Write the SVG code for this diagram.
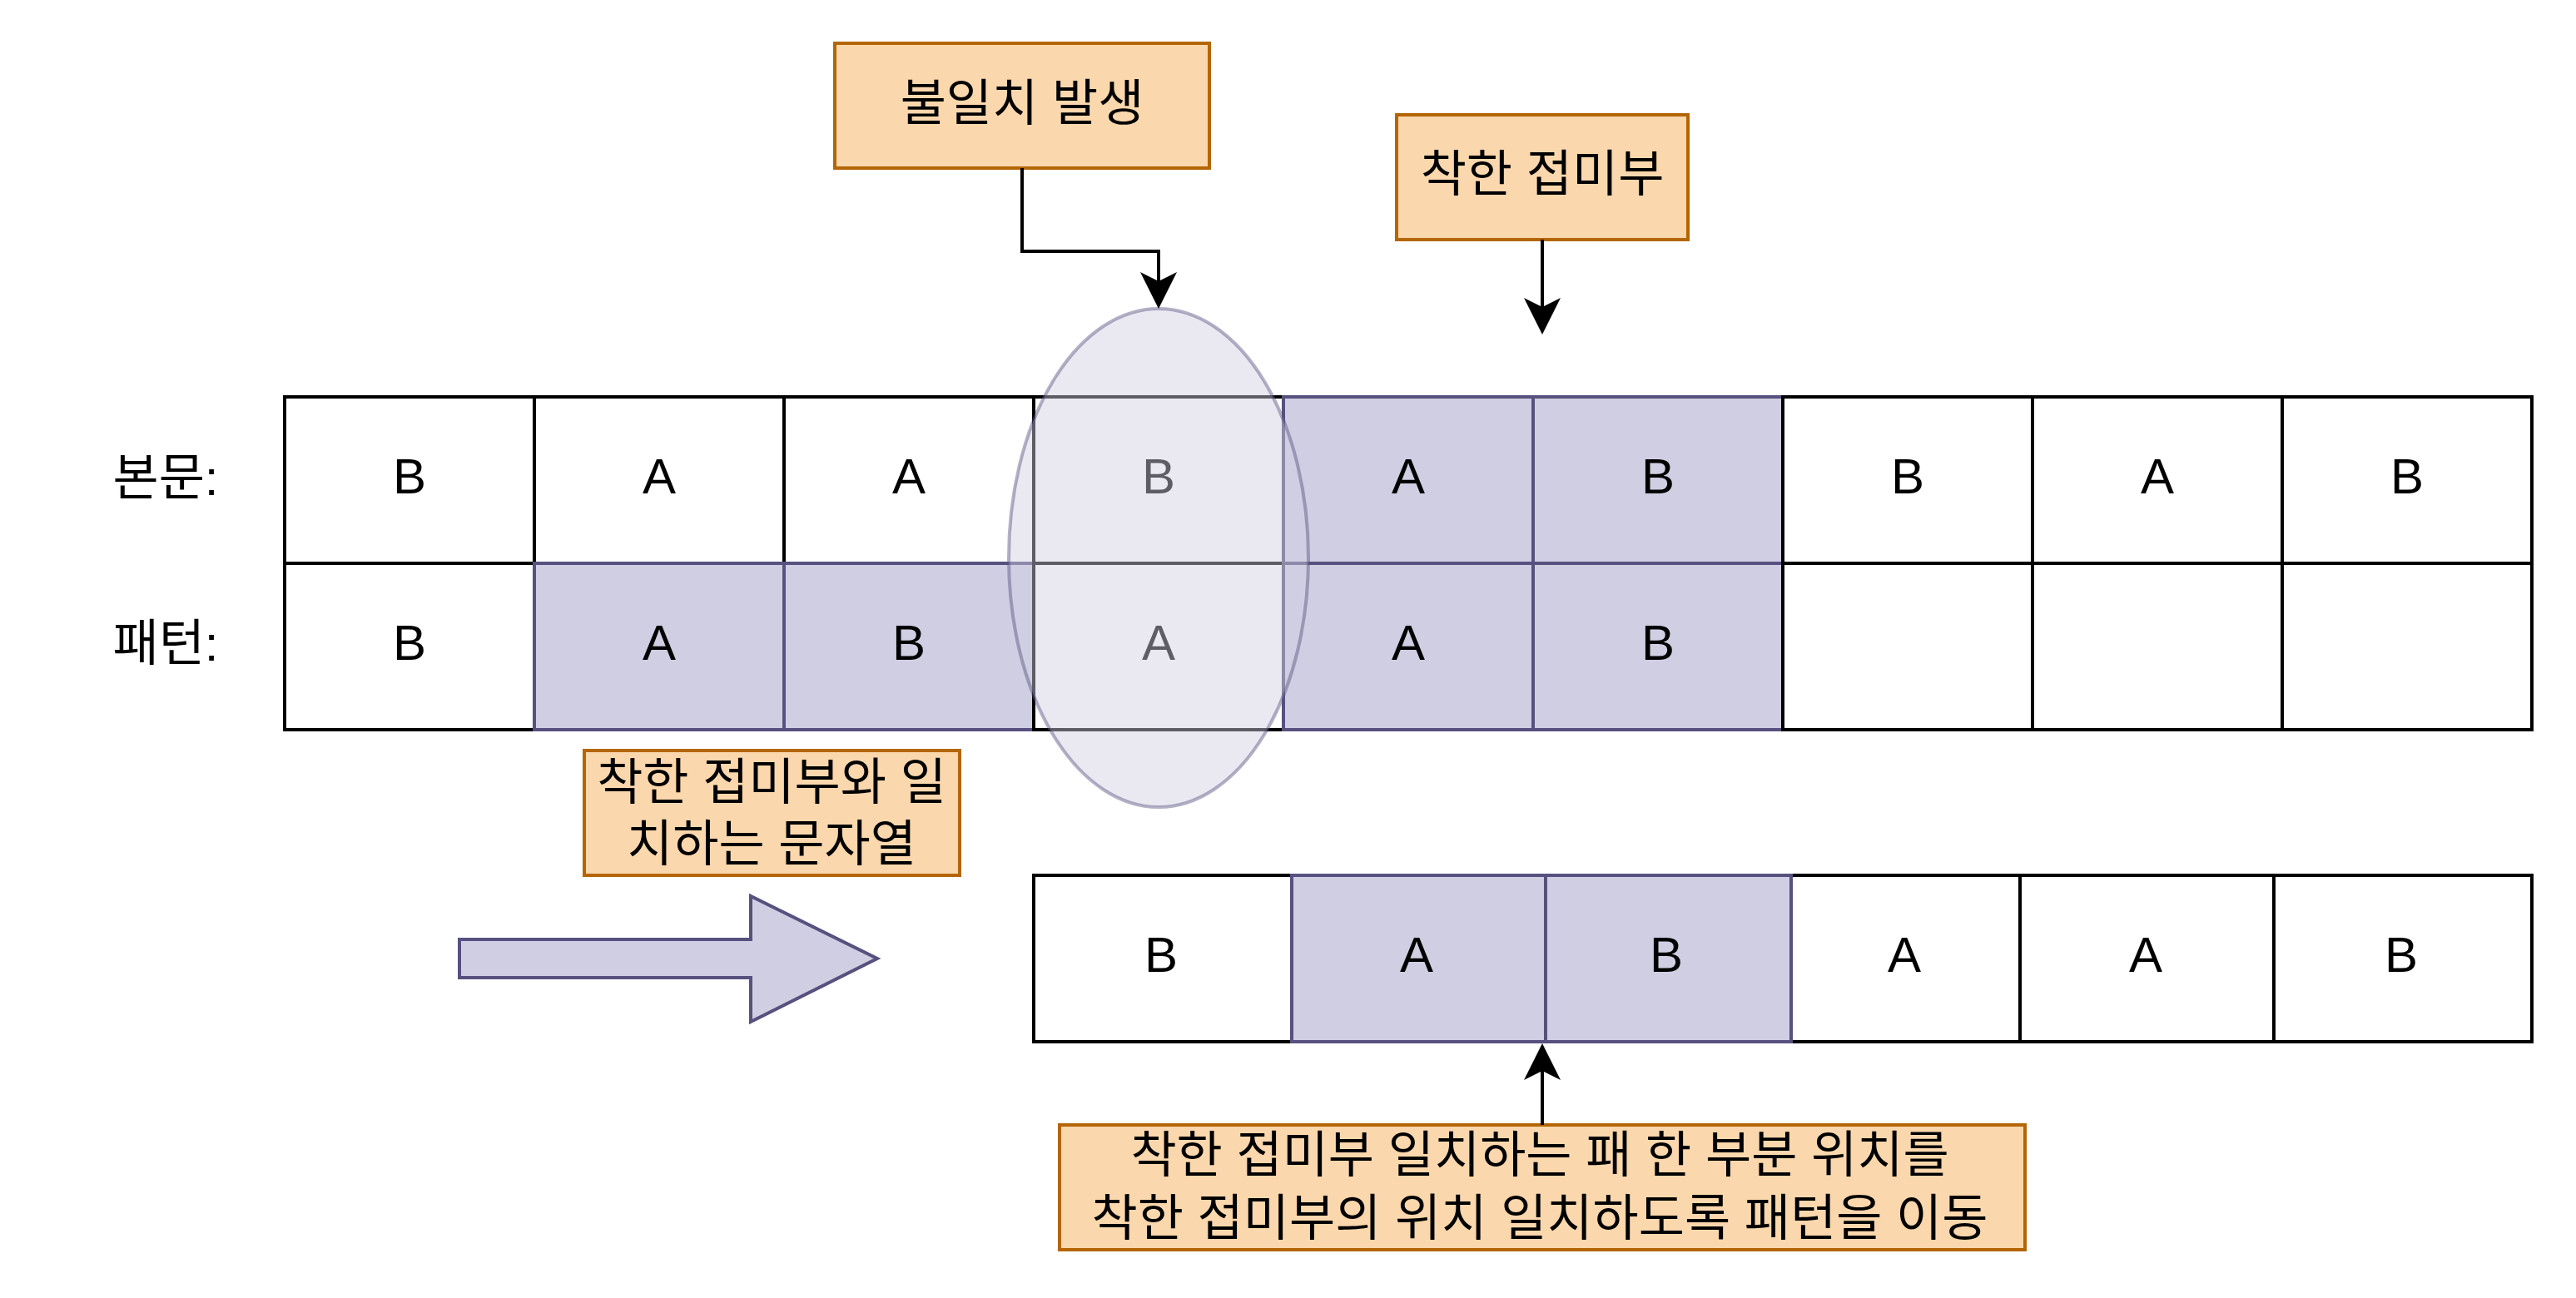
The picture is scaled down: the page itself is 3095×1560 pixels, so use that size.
<svg xmlns="http://www.w3.org/2000/svg" width="3095" height="1560" viewBox="0 0 3095 1560">
<style>
.cell{fill:#ffffff;stroke:#000000;stroke-width:4}
.hl{fill:#d0cee2;stroke:#56517e;stroke-width:4}
.note{fill:#fad7ac;stroke:#b46504;stroke-width:4}
.ch{font-family:'Liberation Sans',Arial,sans-serif;font-size:60px;fill:#000;text-anchor:middle}
.kr{font-family:'Liberation Sans','Noto Sans CJK KR',sans-serif;font-size:60px;fill:#000;text-anchor:middle}
.conn{fill:none;stroke:#000;stroke-width:4}
</style>
<defs>
<marker id="arr" markerUnits="userSpaceOnUse" markerWidth="60" markerHeight="60" viewBox="-20 -30 60 60" refX="0" refY="0" orient="auto" overflow="visible">
<path d="M33,0 L-11,-22 L0,0 L-11,22 Z" fill="#000" stroke="none"/>
</marker>
</defs>
<rect width="3095" height="1560" fill="#ffffff"/>

<g id="label-text"><text class="kr" x="199" y="595">본문:</text></g>
<g id="label-pattern"><text class="kr" x="199" y="794">패턴:</text></g>

<g id="text-row">
<g id="t1"><rect class="cell" x="342" y="477" width="300" height="200"/><text class="ch" x="492" y="593">B</text></g>
<g id="t2"><rect class="cell" x="642" y="477" width="300" height="200"/><text class="ch" x="792" y="593">A</text></g>
<g id="t3"><rect class="cell" x="942" y="477" width="300" height="200"/><text class="ch" x="1092" y="593">A</text></g>
<g id="t4"><rect class="cell" x="1242" y="477" width="300" height="200"/><text class="ch" x="1392" y="593">B</text></g>
<g id="t5"><rect class="hl" x="1542" y="477" width="300" height="200"/><text class="ch" x="1692" y="593">A</text></g>
<g id="t6"><rect class="hl" x="1842" y="477" width="300" height="200"/><text class="ch" x="1992" y="593">B</text></g>
<g id="t7"><rect class="cell" x="2142" y="477" width="300" height="200"/><text class="ch" x="2292" y="593">B</text></g>
<g id="t8"><rect class="cell" x="2442" y="477" width="300" height="200"/><text class="ch" x="2592" y="593">A</text></g>
<g id="t9"><rect class="cell" x="2742" y="477" width="300" height="200"/><text class="ch" x="2892" y="593">B</text></g>
</g>

<g id="pattern-row">
<g id="p1"><rect class="cell" x="342" y="677" width="300" height="200"/><text class="ch" x="492" y="793">B</text></g>
<g id="p2"><rect class="hl" x="642" y="677" width="300" height="200"/><text class="ch" x="792" y="793">A</text></g>
<g id="p3"><rect class="hl" x="942" y="677" width="300" height="200"/><text class="ch" x="1092" y="793">B</text></g>
<g id="p4"><rect class="cell" x="1242" y="677" width="300" height="200"/><text class="ch" x="1392" y="793">A</text></g>
<g id="p5"><rect class="hl" x="1542" y="677" width="300" height="200"/><text class="ch" x="1692" y="793">A</text></g>
<g id="p6"><rect class="hl" x="1842" y="677" width="300" height="200"/><text class="ch" x="1992" y="793">B</text></g>
<g id="p7"><rect class="cell" x="2142" y="677" width="300" height="200"/></g>
<g id="p8"><rect class="cell" x="2442" y="677" width="300" height="200"/></g>
<g id="p9"><rect class="cell" x="2742" y="677" width="300" height="200"/></g>
</g>

<g id="mismatch-ellipse"><ellipse cx="1392" cy="670.5" rx="180" ry="299.5" fill="#d0cee2" fill-opacity="0.45" stroke="#56517e" stroke-opacity="0.45" stroke-width="4"/></g>

<g id="shifted-row">
<g id="s1"><rect class="cell" x="1242" y="1052" width="310" height="200"/><text class="ch" x="1395" y="1168">B</text></g>
<g id="s4"><rect class="cell" x="2152" y="1052" width="275" height="200"/><text class="ch" x="2288" y="1168">A</text></g>
<g id="s5"><rect class="cell" x="2427" y="1052" width="305" height="200"/><text class="ch" x="2578" y="1168">A</text></g>
<g id="s6"><rect class="cell" x="2732" y="1052" width="310" height="200"/><text class="ch" x="2885" y="1168">B</text></g>
<g id="s2"><rect class="hl" x="1552" y="1052" width="305" height="200"/><text class="ch" x="1702" y="1168">A</text></g>
<g id="s3"><rect class="hl" x="1857" y="1052" width="295" height="200"/><text class="ch" x="2002" y="1168">B</text></g>
</g>

<g id="shift-arrow"><polygon points="552,1129 902,1129 902,1077 1054,1152 902,1228 902,1175 552,1175" fill="#d0cee2" stroke="#56517e" stroke-width="4"/></g>

<g id="note-mismatch"><rect class="note" x="1003" y="52" width="450" height="150"/><text class="kr" x="1228" y="145">불일치 발생</text></g>
<g id="note-good-suffix"><rect class="note" x="1678" y="138" width="350" height="150"/><text class="kr" x="1853" y="230">착한 접미부</text></g>
<g id="note-matching"><rect class="note" x="702" y="902" width="451" height="150"/><text class="kr" x="927" y="961">착한 접미부와 일</text><text class="kr" x="927" y="1035">치하는 문자열</text></g>
<g id="note-shift"><rect class="note" x="1273" y="1352" width="1160" height="150"/><text class="kr" x="1850" y="1409">착한 접미부 일치하는 패 한 부분 위치를</text><text class="kr" x="1850" y="1485">착한 접미부의 위치 일치하도록 패턴을 이동</text></g>

<g id="connectors">
<path class="conn" d="M1228,202 V302 H1392 V338" marker-end="url(#arr)"/>
<path class="conn" d="M1853,288 V369" marker-end="url(#arr)"/>
<path class="conn" d="M1853,1352 V1287" marker-end="url(#arr)"/>
</g>
</svg>
